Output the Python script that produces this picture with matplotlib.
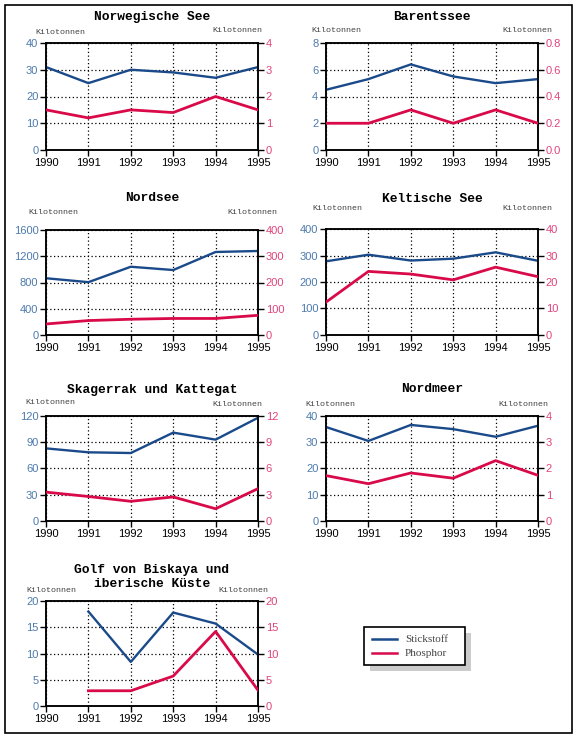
import matplotlib
matplotlib.use("Agg")
import matplotlib.pyplot as plt
from matplotlib.patches import Rectangle
from matplotlib.lines import Line2D
from matplotlib.ticker import FormatStrFormatter
import numpy as np

years = [1990, 1991, 1992, 1993, 1994, 1995]

titles = ["Norwegische See", "Barentssee", "Nordsee", "Keltische See",
          "Skagerrak und Kattegat", "Nordmeer", "Golf von Biskaya und\niberische Küste"]

n_norweg = [31, 25, 30, 29, 27, 31]
p_norweg = [1.5, 1.2, 1.5, 1.4, 2.0, 1.5]
n_barents = [4.5, 5.3, 6.4, 5.5, 5.0, 5.3]
p_barents = [0.2, 0.2, 0.3, 0.2, 0.3, 0.2]
n_nordsee = [865, 805, 1040, 990, 1265, 1280]
p_nordsee = [42, 55, 60, 63, 63, 75]
n_kelt = [278, 303, 281, 288, 312, 280]
p_kelt = [12.4, 24, 23, 20.8, 25.6, 22]
n_skag = [83, 78.5, 77.7, 101, 93, 118]
p_skag = [3.3, 2.8, 2.25, 2.75, 1.4, 3.7]
n_nordmeer = [35.8, 30.5, 36.6, 35, 32.1, 36.3]
p_nordmeer = [1.73, 1.42, 1.83, 1.63, 2.3, 1.74]
golf_years = [1991, 1992, 1993, 1994, 1995]
n_golf = [18, 8.4, 17.8, 15.7, 9.8]
p_golf = [2.9, 2.9, 5.7, 14.2, 3.0]

left_max = [40, 8, 1600, 400, 120, 40, 20]
left_step = [10, 2, 400, 100, 30, 10, 5]
right_max = [4, 0.8, 400, 40, 12, 4, 20]
right_step = [1, 0.2, 100, 10, 3, 1, 5]

unit_label = "Kilotonnen"
legend_labels = ["Stickstoff", "Phosphor"]

series = [
    (years, n_norweg, years, p_norweg),
    (years, n_barents, years, p_barents),
    (years, n_nordsee, years, p_nordsee),
    (years, n_kelt, years, p_kelt),
    (years, n_skag, years, p_skag),
    (years, n_nordmeer, years, p_nordmeer),
    (golf_years, n_golf, golf_years, p_golf),
]

W, H = 582, 744
N_COL = "#1a4a8a"
P_COL = "#d90a4a"
LT_COL = "#4d7aae"
RT_COL = "#e0447c"

fig = plt.figure(figsize=(W / 100, H / 100), dpi=100)

def fx(px):
    return px / W

def fy(py):
    return 1 - py / H

# outer border
fig.patches.append(Rectangle((fx(5), fy(733)), fx(572) - fx(5), fy(5) - fy(733),
                             transform=fig.transFigure, fill=False, edgecolor="black",
                             linewidth=1.2, zorder=0))

# axes boxes: (left, right, top, bottom) in px
boxes = [(46, 258, 43, 150), (326, 538, 43, 150),
         (46, 258, 230, 335), (326, 538, 229, 335),
         (46, 258, 416, 521), (326, 538, 416, 521),
         (46, 258, 601, 706)]
title_y = [17, 17, 198, 199, 390, 389, 577]
kl_left = [(35, 32), (311, 30), (28, 212), (312, 209), (25, 403), (305, 404), (26, 591)]
kl_right = [(262, 30), (552, 30), (277, 212), (552, 209), (262, 405), (548, 404), (268, 591)]

for i, (l, r, t, b) in enumerate(boxes):
    ax = fig.add_axes([fx(l), fy(b), fx(r) - fx(l), fy(t) - fy(b)])
    ax2 = ax.twinx()
    xn, yn, xp, yp = series[i]
    ax.plot(xn, yn, color=N_COL, lw=1.7, zorder=3)
    ax2.plot(xp, yp, color=P_COL, lw=2.0, zorder=3)
    ax.set_xlim(1990, 1995)
    ax.set_ylim(0, left_max[i])
    ax2.set_ylim(0, right_max[i])
    ax.set_xticks(years)
    ax.set_yticks(np.arange(0, left_max[i] + left_step[i] / 2, left_step[i]))
    ax2.set_yticks(np.arange(0, right_max[i] + right_step[i] / 2, right_step[i]))
    if i == 1:
        ax2.yaxis.set_major_formatter(FormatStrFormatter("%.1f"))
    ax.grid(True, color="black", linestyle=(0, (1, 2)), linewidth=0.9)
    ax.tick_params(axis="both", direction="out", length=4, width=1, labelsize=8,
                   pad=1.5)
    ax.tick_params(axis="y", labelcolor=LT_COL)
    ax.tick_params(axis="x", labelcolor="black")
    ax2.tick_params(axis="y", direction="out", length=4, width=1, labelsize=8,
                    labelcolor=RT_COL, pad=1.5)
    for a in (ax, ax2):
        for s in a.spines.values():
            s.set_linewidth(1.1)
        for lab in a.get_xticklabels() + a.get_yticklabels():
            lab.set_fontfamily("Liberation Sans")
    fig.text(fx((l + r) / 2), fy(title_y[i]), titles[i], ha="center", va="center",
             fontsize=9.3, fontweight="bold", family="Liberation Mono",
             linespacing=1.25)
    fig.text(fx(kl_left[i][0]), fy(kl_left[i][1]), unit_label, ha="left", va="center",
             fontsize=6, family="Liberation Mono", color="#444444")
    fig.text(fx(kl_right[i][0]), fy(kl_right[i][1]), unit_label, ha="right", va="center",
             fontsize=6, family="Liberation Mono", color="#444444")

# legend with shadow
lx0, lx1, ly0, ly1 = 364, 465, 627, 665
fig.patches.append(Rectangle((fx(lx0 + 6), fy(ly1 + 6)), fx(lx1) - fx(lx0), fy(ly0) - fy(ly1),
                             transform=fig.transFigure, facecolor="#cccccc",
                             edgecolor="none", zorder=1))
fig.patches.append(Rectangle((fx(lx0), fy(ly1)), fx(lx1) - fx(lx0), fy(ly0) - fy(ly1),
                             transform=fig.transFigure, facecolor="white",
                             edgecolor="black", linewidth=1.2, zorder=2))
for lab, col, y in zip(legend_labels, [N_COL, P_COL], [639, 653]):
    fig.lines.append(Line2D([fx(372), fx(397)], [fy(y), fy(y)], transform=fig.transFigure,
                            color=col, lw=1.8, zorder=3))
    fig.text(fx(405), fy(y), lab, ha="left", va="center", fontsize=8,
             family="Liberation Serif", color="#444444", zorder=3)

fig.savefig("out.png", dpi=100)
